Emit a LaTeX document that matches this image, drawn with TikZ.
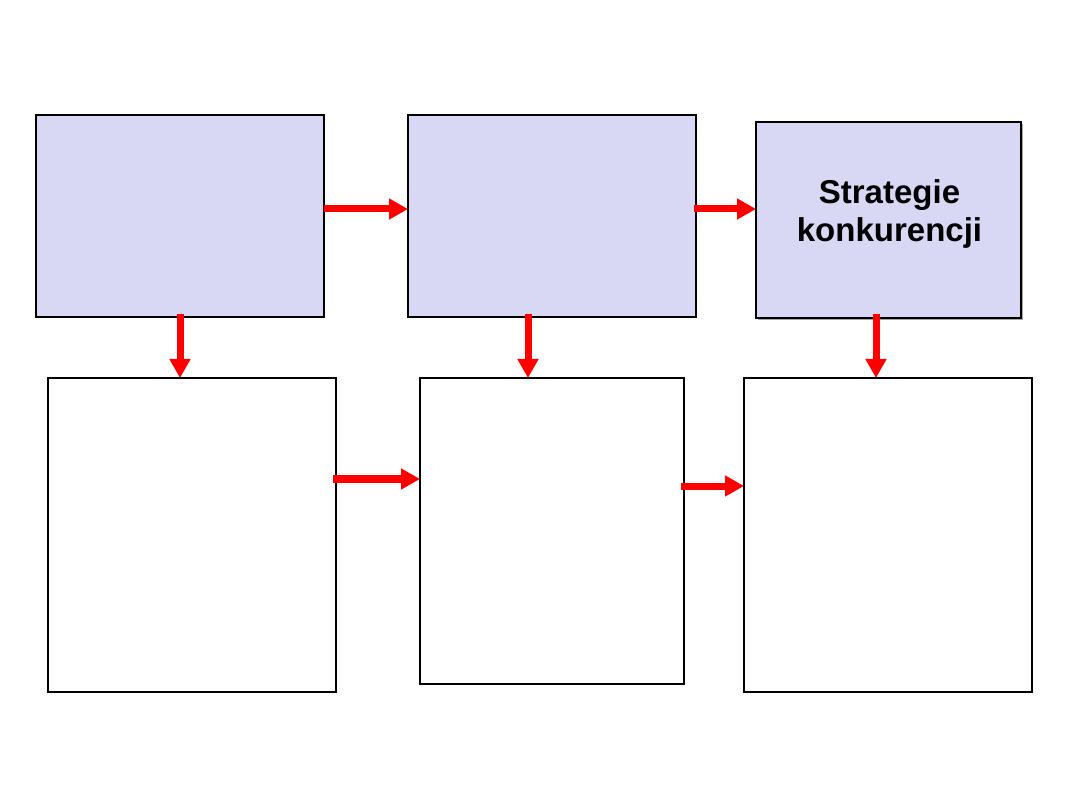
\documentclass[tikz,border=0pt]{standalone}
\usepackage{fontspec}
\setmainfont{Liberation Sans}
\usetikzlibrary{arrows.meta}
\definecolor{lav}{RGB}{216,216,244}
\tikzset{
  box/.style={draw=black, line width=2pt, inner sep=0pt, outer sep=0pt, rectangle},
  topbox/.style={box, fill=lav},
  arr/.style={draw=red, line width=7pt, -{Triangle[length=19pt,width=20pt]}}
}
\begin{document}
\begin{tikzpicture}[x=1pt,y=-1pt]
\useasboundingbox (0,0) rectangle (1080,810);
\fill[gray!70] (758,124) rectangle (1023,320);
\node[topbox, minimum width=288pt, minimum height=202pt] (A) at (180,216) {};
\node[topbox, minimum width=288pt, minimum height=202pt] (B) at (552,216) {};
\node[topbox, minimum width=265pt, minimum height=196pt] (C) at (888.5,220) {};
\node[align=center, inner sep=0pt, font=\fontsize{33}{38}\selectfont\bfseries]
      (Ct) at (889.5,214) {Strategie\\konkurencji};
\node[box, minimum width=288pt, minimum height=314pt] (D) at (192,535) {};
\node[box, minimum width=264pt, minimum height=306pt] (E) at (552,531) {};
\node[box, minimum width=288pt, minimum height=314pt] (F) at (888,535) {};
% horizontal top
\path ([shift={(0,-7)}]A.east) coordinate (ab);
\draw[arr] (ab) -- (B.west |- ab);
\path ([shift={(-2,-7)}]B.east) coordinate (bc);
\draw[arr] (bc) -- (C.west |- bc);
% vertical
\path ([shift={(0,-3)}]A.south) coordinate (ad);
\draw[arr] (ad) -- (ad |- D.north);
\path ([shift={(-24,-3)}]B.south) coordinate (be);
\draw[arr] (be) -- (be |- E.north);
\path ([shift={(-12.5,-4)}]C.south) coordinate (cf);
\draw[arr] (cf) -- (cf |- F.north);
% horizontal bottom
\path ([shift={(-3,-56)}]D.east) coordinate (de);
\draw[arr] (de) -- (E.west |- de);
\path ([shift={(-3,-45)}]E.east) coordinate (ef);
\draw[arr] (ef) -- (F.west |- ef);
\end{tikzpicture}
\end{document}
